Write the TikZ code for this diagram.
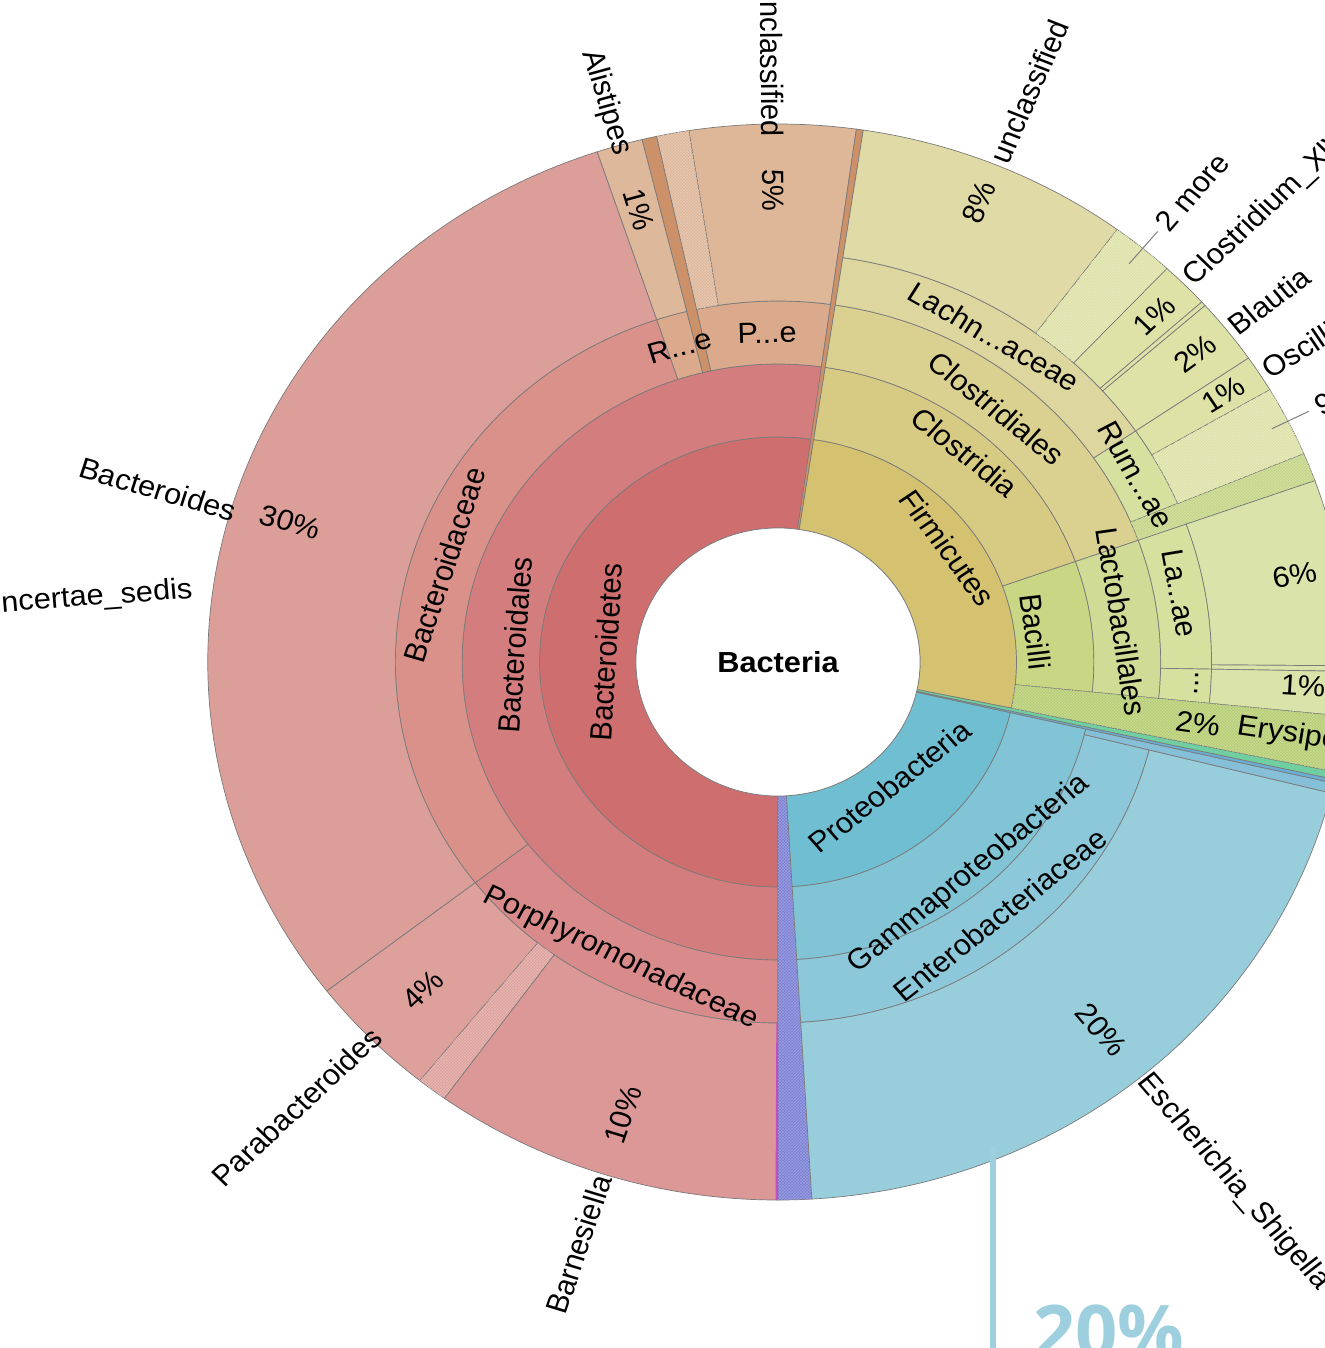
\documentclass[tikz,border=0pt]{standalone}
\usepackage{fontspec}
\setmainfont{Liberation Sans}
\newfontfamily\bigfont{Open Sans}
\usetikzlibrary{patterns}
\definecolor{cBdt}{HTML}{CF6E6E}
\definecolor{cBdl}{HTML}{D47D7F}
\definecolor{cBac}{HTML}{D9918A}
\definecolor{cPor}{HTML}{D98A8A}
\definecolor{cBdes}{HTML}{DC9E99}
\definecolor{cPara}{HTML}{DDA09B}
\definecolor{cBarn}{HTML}{DC9797}
\definecolor{cPe}{HTML}{DBAA8C}
\definecolor{cUnc}{HTML}{DEB698}
\definecolor{cAli}{HTML}{DEB89B}
\definecolor{cStr}{HTML}{CD9169}
\definecolor{cFir}{HTML}{D5C270}
\definecolor{cCla}{HTML}{D7CA82}
\definecolor{cCls}{HTML}{DAD08F}
\definecolor{cLach}{HTML}{DED69F}
\definecolor{cUE}{HTML}{E0DAA6}
\definecolor{cGA}{HTML}{DEE2A6}
\definecolor{cRum}{HTML}{D6E09F}
\definecolor{cBand}{HTML}{C3D484}
\definecolor{cBcl}{HTML}{C9D683}
\definecolor{cLact}{HTML}{D0DC95}
\definecolor{cLa}{HTML}{D6E1A0}
\definecolor{cGB}{HTML}{DAE4AA}
\definecolor{cEry}{HTML}{B5CC70}
\definecolor{cTeal}{HTML}{6FCFA0}
\definecolor{cBthin}{HTML}{6AAED6}
\definecolor{cPro}{HTML}{70BED2}
\definecolor{cGam}{HTML}{80C4D6}
\definecolor{cEnt}{HTML}{8CC8DA}
\definecolor{cEsc}{HTML}{98CEDC}
\definecolor{cSliv}{HTML}{86C0D8}
\definecolor{cPur}{HTML}{7A7ED4}
\definecolor{cMag}{HTML}{C050C0}
\definecolor{cBig}{HTML}{9DCFDF}
\definecolor{cEdge}{HTML}{7A7A7A}
\def\RRa{134}
\def\RRb{225}
\def\RRc{298}
\def\RRd{361}
\def\RRe{409}
\def\RRf{538}
\newcommand\krsec[5]{\path[#1] (#2:#4) arc[start angle=#2, end angle=#3, radius=#4] -- (#3:#5) arc[start angle=#3, end angle=#2, radius=#5] -- cycle;}
\tikzset{
  sec/.style={fill=#1, draw=cEdge, line width=0.7pt},
  hatch/.style={postaction={draw=none, pattern=crosshatch, pattern color=#1!75!white}},
  lab/.style={font=\fontsize{29}{34}\selectfont, inner sep=0pt, transform shape},
  leader/.style={draw=gray, line width=1pt}
}
\begin{document}
\begin{tikzpicture}[x=1pt,y=1pt]
\useasboundingbox (0,0) rectangle (1324,-1348);
\begin{scope}[shift={(778,-662)}, xscale=1.06]
% ---------------- Bacteroidetes
\krsec{sec=cBdt}{81.4}{270}{\RRa}{\RRb}
\krsec{sec=cBdl}{81.4}{270}{\RRb}{\RRc}
\krsec{sec=cPe}{82.1}{102.3}{\RRc}{\RRd}
\krsec{sec=cPe}{103.8}{108.5}{\RRc}{\RRd}
\krsec{sec=cBac}{108.5}{217.7}{\RRc}{\RRd}
\krsec{sec=cPor}{217.7}{270}{\RRc}{\RRd}
\krsec{sec=cUnc}{82.1}{99}{\RRd}{\RRf}
\krsec{sec=cUnc,hatch=cUnc}{99}{102.3}{\RRd}{\RRf}
\krsec{sec=cStr}{102.3}{103.8}{\RRc}{\RRf}
\krsec{sec=cAli}{103.8}{108.5}{\RRd}{\RRf}
\krsec{sec=cBdes}{108.5}{217.7}{\RRd}{\RRf}
\krsec{sec=cPara}{217.7}{231.1}{\RRd}{\RRf}
\krsec{sec=cPara,hatch=cPara}{231.1}{234.2}{\RRd}{\RRf}
\krsec{sec=cBarn}{234.2}{270}{\RRd}{\RRf}
\krsec{sec=cStr}{81.4}{82.1}{\RRa}{\RRf}
% ---------------- small purple phylum
\krsec{sec=cPur,hatch=cPur}{270}{273.4}{\RRa}{\RRf}
\krsec{fill=cMag}{269.75}{270}{\RRd}{\RRf}
% ---------------- Proteobacteria
\krsec{sec=cPro}{273.4}{347.0}{\RRa}{\RRb}
\krsec{sec=cGam}{273.4}{347.0}{\RRb}{\RRc}
\krsec{sec=cEnt}{273.4}{345.9}{\RRc}{\RRd}
\krsec{sec=cEsc}{273.4}{345.9}{\RRd}{\RRf}
\krsec{sec=cSliv}{345.9}{347.0}{\RRc}{\RRf}
\krsec{sec=cBthin}{347.0}{347.4}{\RRa}{\RRf}
\krsec{sec=cTeal}{347.4}{348.2}{\RRa}{\RRf}
% ---------------- Firmicutes
\krsec{sec=cFir}{-11.8}{81.4}{\RRa}{\RRb}
\krsec{sec=cCla}{19.7}{81.4}{\RRb}{\RRc}
\krsec{sec=cCls}{19.7}{81.4}{\RRc}{\RRd}
\krsec{sec=cLach}{34.4}{81.4}{\RRd}{\RRe}
\krsec{sec=cRum}{22.8}{34.4}{\RRd}{\RRe}
\krsec{sec=cBand,hatch=cBand}{19.7}{22.8}{\RRd}{\RRf}
\krsec{sec=cUE}{53.5}{81.4}{\RRe}{\RRf}
\krsec{sec=cGA,hatch=cGA}{47}{53.5}{\RRe}{\RRf}
\krsec{sec=cGA}{42}{47}{\RRe}{\RRf}
\krsec{sec=cGA}{41.5}{42}{\RRe}{\RRf}
\krsec{sec=cGA}{34.4}{41.5}{\RRe}{\RRf}
\krsec{sec=cGA}{30.4}{34.4}{\RRe}{\RRf}
\krsec{sec=cGA,hatch=cGA}{22.8}{30.4}{\RRe}{\RRf}
\krsec{sec=cBcl}{-5.8}{19.7}{\RRb}{\RRc}
\krsec{sec=cLact}{-5.8}{19.7}{\RRc}{\RRd}
\krsec{sec=cLa}{-1}{19.7}{\RRd}{\RRe}
\krsec{sec=cLa}{-5.8}{-1}{\RRd}{\RRe}
\krsec{sec=cGB}{-0.4}{19.7}{\RRe}{\RRf}
\krsec{sec=cGB}{-1}{-0.4}{\RRe}{\RRf}
\krsec{sec=cGB}{-5.8}{-1}{\RRe}{\RRf}
\krsec{sec=cEry,hatch=cEry}{-11.8}{-5.8}{\RRb}{\RRf}
% ---------------- centre
\node[circle, fill=white, draw=cEdge, line width=0.7pt, minimum size=268pt, inner sep=0pt, transform shape] (hub) at (0,0) {};
\node[font=\bfseries\fontsize{29}{34}\selectfont, inner sep=0pt, transform shape] (root) at (0,0) {Bacteria};
% ---------------- tangential labels
\node[lab, rotate=86.5] (tBdt) at (176.5:162.6) {Bacteroidetes};
\node[lab, rotate=86] (tBdl) at (176:248.7) {Bacteroidales};
\node[lab, rotate=72.8] (tBac) at (162.8:329) {Bacteroidaceae};
\node[lab, rotate=16.4] (tRe) at (106.4:329) {R...e};
\node[lab, rotate=1.8] (tPe) at (91.8:329) {P...e};
\node[lab, rotate=-26.6] (tPor) at (243.4:331.4) {Porphyromonadaceae};
\node[lab, rotate=-54.5] (tFir) at (35.6:196.7) {Firmicutes};
\node[lab, rotate=-40] (tCla) at (50:274) {Clostridia};
\node[lab, rotate=-40] (tCls) at (50.9:327) {Clostridiales};
\node[lab, rotate=-31] (tLac) at (57.9:384) {Lachn...aceae};
\node[lab, rotate=-61] (tRum) at (29:386) {Rum...ae};
\node[lab, rotate=-83] (tBcl) at (7.1:245) {Bacilli};
\node[lab, rotate=-81.5] (tLact) at (7.1:326.7) {Lactobacillales};
\node[lab, rotate=-80] (tLa) at (10.3:385.4) {La...ae};
\node[lab, rotate=87] (tDots) at (-3.1:395.6) {...};
\node[lab, rotate=39.7] (tPro) at (-49.9:163) {Proteobacteria};
\node[lab, rotate=40.4] (tGam) at (-49.6:278.2) {Gammaproteobacteria};
\node[lab, rotate=39.7] (tEnt) at (-50.3:328.6) {Enterobacteriaceae};
% ---------------- radial labels
\node[lab, rotate=-16.9, anchor=east] (nBdes) at (163.6:533) {Bacteroides};
\node[lab, rotate=-16.9] (pBdes) at (163.1:481) {30\%};
\node[lab, rotate=4.5, anchor=east] (nInc) at (172.6:557) {incertae\_sedis};
\node[lab, rotate=44.4, anchor=east] (nPara) at (224.4:530) {Parabacteroides};
\node[lab, rotate=44.4] (pPara) at (224.4:469) {4\%};
\node[lab, rotate=72.1, anchor=east] (nBarn) at (252.1:540) {Barnesiella};
\node[lab, rotate=72.1] (pBarn) at (252.1:476) {10\%};
\node[lab, rotate=-73.85, anchor=east] (nAli) at (106.15:528) {Alistipes};
\node[lab, rotate=-73.85] (pAli) at (106.2:471) {1\%};
\node[lab, rotate=-89.45, anchor=east] (nUncA) at (90.55:525) {unclassified};
\node[lab, rotate=-89.45] (pUncA) at (90.6:472) {5\%};
\node[lab, rotate=67.45, anchor=west] (nUncB) at (67.45:542) {unclassified};
\node[lab, rotate=67.45] (pUncB) at (67.6:497) {8\%};
\coordinate (m2a) at (50.25:518);
\coordinate (m2b) at (50.25:560);
\draw[leader] (m2a) -- (m2b);
\node[lab, rotate=50.25, anchor=west] (n2m) at (50.25:566) {2 more};
\node[lab, rotate=44.5, anchor=west] (nClo) at (44.5:543) {Clostridium\_XlVa};
\node[lab, rotate=44.5] (pClo) at (44.3:496) {1\%};
\node[lab, rotate=37.95, anchor=west] (nBla) at (37.95:543) {Blautia};
\node[lab, rotate=37.95] (pBla) at (38.1:500) {2\%};
\node[lab, rotate=32.4, anchor=west] (nOsc) at (32.4:543) {Oscillibacter};
\node[lab, rotate=32.4] (pOsc) at (32.5:498) {1\%};
\coordinate (m9a) at (26.6:521);
\coordinate (m9b) at (26.6:560);
\draw[leader] (m9a) -- (m9b);
\node[lab, rotate=26.6, anchor=west] (n9m) at (26.6:568) {9 more};
\node[lab, rotate=9.35] (pSix) at (10.1:495) {6\%};
\node[lab, rotate=-3.4] (pOneB) at (-2.7:496) {1\%};
\node[lab, rotate=-8.8] (pEry) at (-8.8:401) {2\%};
\node[lab, rotate=-8.8, anchor=west] (nEry) at (-8.5:438) {Erysipelotrichaceae};
\node[lab, rotate=-50.6] (pEsc) at (-50.3:478) {20\%};
\node[lab, rotate=-50.6, anchor=west] (nEsc) at (-50.4:540) {Escherichia\_Shigella};
\end{scope}
% ---------------- call-out
\coordinate (v1) at (993,-1146);
\coordinate (v2) at (993,-1360);
\draw[line width=6pt, cBig] (v1) -- (v2);
\node[anchor=north west, inner sep=0pt, text=cBig, font=\bigfont\bfseries\fontsize{74}{80}\selectfont] (big) at (1033,-1305) {20\%};
\end{tikzpicture}
\end{document}
